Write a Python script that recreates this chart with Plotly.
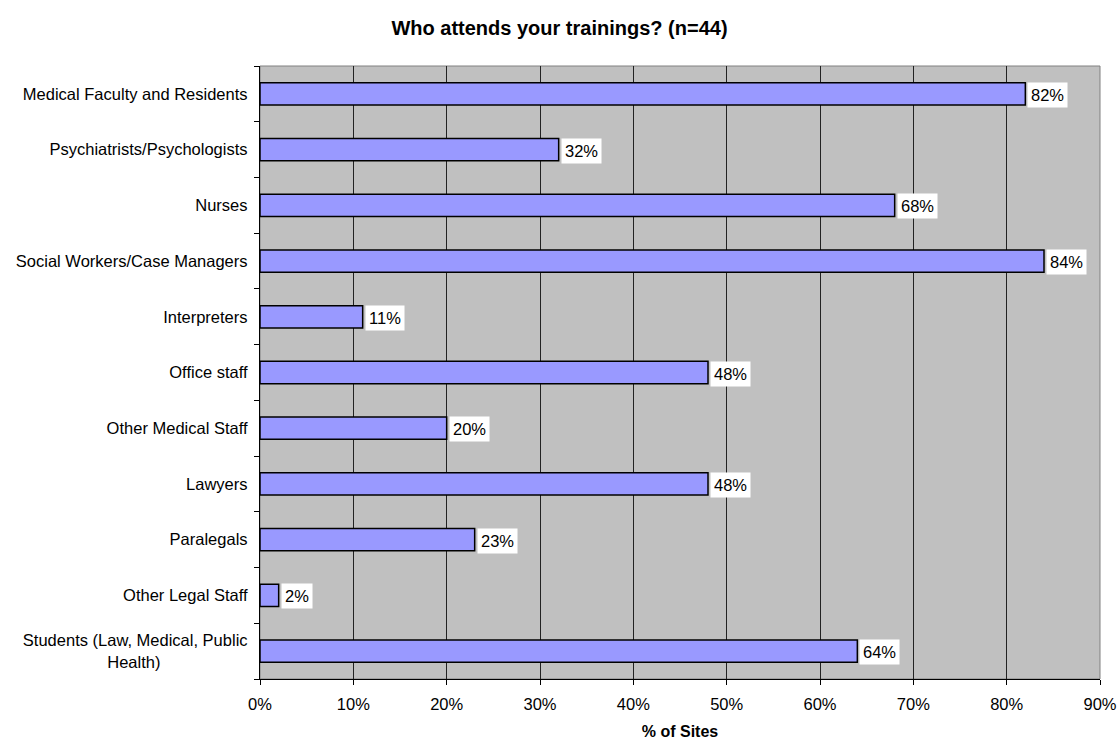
import plotly.graph_objects as go

# Share of sites reporting each audience type (percent of 44 sites)
categories = [
    "Medical Faculty and Residents",
    "Psychiatrists/Psychologists",
    "Nurses",
    "Social Workers/Case Managers",
    "Interpreters",
    "Office staff",
    "Other Medical Staff",
    "Lawyers",
    "Paralegals",
    "Other Legal Staff",
    "Students (Law, Medical, Public Health)",
]
# tick text shown on the category axis (long name wrapped, second line centred)
category_tick_text = [
    "Medical Faculty and Residents",
    "Psychiatrists/Psychologists",
    "Nurses",
    "Social Workers/Case Managers",
    "Interpreters",
    "Office staff",
    "Other Medical Staff",
    "Lawyers",
    "Paralegals",
    "Other Legal Staff",
    "Students (Law, Medical, Public<br>Health)" + "\u00a0" * 19,
]
percent_of_sites = [82, 32, 68, 84, 11, 48, 20, 48, 23, 2, 64]
x_tick_values = [0, 10, 20, 30, 40, 50, 60, 70, 80, 90]
x_tick_labels = ["0%", "10%", "20%", "30%", "40%", "50%", "60%", "70%", "80%", "90%"]

FONT = "Liberation Sans, Arial, sans-serif"
LABEL_SIZE = 16.5

fig = go.Figure()
fig.add_trace(go.Bar(
    x=percent_of_sites,
    y=categories,
    orientation="h",
    marker=dict(color="#9999FF", line=dict(color="black", width=1.5)),
    hoverinfo="skip",
))

# value labels on white boxes just past each bar end
for cat, val in zip(categories, percent_of_sites):
    fig.add_annotation(
        x=val, y=cat, xref="x", yref="y",
        text=f"{val}%", showarrow=False,
        xanchor="left", yanchor="middle", xshift=2, yshift=-1,
        bgcolor="white", borderpad=3,
        font=dict(family=FONT, size=LABEL_SIZE, color="black"),
    )

# grey frame on top and right of the plot area
fig.add_shape(type="rect", xref="paper", yref="paper", x0=0, x1=1, y0=0, y1=1,
              line=dict(color="#808080", width=1), layer="below")

fig.update_layout(
    width=1119, height=740,
    paper_bgcolor="white", plot_bgcolor="#C0C0C0",
    margin=dict(l=260, r=19, t=66, b=61),
    bargap=0.6,
    showlegend=False,
    title=dict(text="<b>Who attends your trainings? (n=44)</b>", x=0.5, xanchor="center",
               y=1 - 28 / 740, yanchor="middle",
               font=dict(family=FONT, size=20, color="black")),
    font=dict(family=FONT, size=LABEL_SIZE, color="black"),
)
fig.update_xaxes(
    range=[0, 90], tickvals=x_tick_values, ticktext=x_tick_labels,
    automargin=False,
    showgrid=True, gridcolor="#222222", gridwidth=1,
    showline=True, linecolor="black", linewidth=1.3,
    ticks="outside", ticklen=5, tickcolor="black",
    ticklabelstandoff=5,
    zeroline=False,
    title=dict(text="<b>% of Sites</b>", font=dict(family=FONT, size=16), standoff=15),
    tickfont=dict(family=FONT, size=LABEL_SIZE),
)
fig.update_yaxes(
    autorange="reversed", type="category",
    automargin=False,
    tickvals=categories, ticktext=category_tick_text,
    tickson="boundaries", ticks="outside", ticklen=5, tickcolor="black",
    ticklabelstandoff=8,
    showgrid=False, showline=True, linecolor="black", linewidth=1.3,
    tickfont=dict(family=FONT, size=LABEL_SIZE),
)

fig.write_html("out.html")
